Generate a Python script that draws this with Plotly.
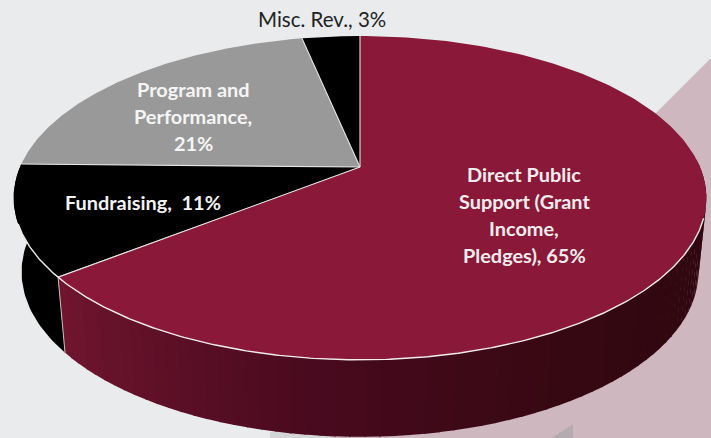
import numpy as np
import plotly.graph_objects as go

categories = ["Direct Public<br>Support (Grant<br>Income,<br>Pledges), 65%", "Fundraising,  11%",
              "Program and<br>Performance,<br>21%", "Misc. Rev., 3%"]
values = [64.3, 11.0, 21.45, 3.25]
colors = ["#8A1838", "#000000", "#999999", "#000000"]
label_xy = [(524, 174), (143, 202), (193, 89), (322, 19)]
label_colors = ["#F3ECEE", "#F3F3F3", "#F5F5F5", "#222222"]
LINE_GAP = 27

W, H = 711, 438
CX, CY, A, B, K = 360, 167, 340, 156, 0.191


def top(theta):
    u, v = np.sin(theta), np.cos(theta)
    d = 1 + K * v
    return CX + A * u / d, CY - B * v / d


def bottom(theta):
    x, y = top(theta)
    return CX + (x - CX) * 0.977, 272 + (y - 198) * 165 / 162


def lerp(c1, c2, t):
    return "rgb(%d,%d,%d)" % tuple(round(a + (b - a) * t) for a, b in zip(c1, c2))


def side_color(theta):
    deg = np.degrees(theta)  # 90 = right edge, 232 = left corner
    stops = [(90, (44, 6, 14)), (150, (54, 8, 18)), (185, (72, 10, 30)), (232, (114, 21, 48))]
    for (d0, c0), (d1, c1) in zip(stops, stops[1:]):
        if deg <= d1:
            return lerp(c0, c1, max(0, (deg - d0) / (d1 - d0)))
    return lerp(stops[-1][1], stops[-1][1], 0)


fig = go.Figure()

edges = np.cumsum([0] + values) / sum(values) * 2 * np.pi

# side walls (front half only): maroon strips and the black fundraising wall
t1 = edges[1]
strips = np.linspace(np.pi / 2 - 0.05, t1, 70)
for a, b in zip(strips[:-1], strips[1:]):
    ts = np.linspace(a, b + 0.004, 4)
    xt, yt = top(ts)
    xb, yb = bottom(ts)
    fig.add_trace(go.Scatter(x=np.r_[xt, xb[::-1]], y=np.r_[yt, yb[::-1]], mode="lines", fill="toself",
                             fillcolor=side_color((a + b) / 2), line=dict(width=0), hoverinfo="skip"))
ts = np.linspace(edges[1], edges[2], 40)
xt, yt = top(ts)
xb, yb = bottom(ts)
fig.add_trace(go.Scatter(x=np.r_[xt, xb[::-1]], y=np.r_[yt, yb[::-1]], mode="lines", fill="toself",
                         fillcolor="#000000", line=dict(width=0), hoverinfo="skip"))
# wall seam at the maroon / black corner
xa, ya = top(edges[1])
xb2, yb2 = bottom(edges[1])
fig.add_trace(go.Scatter(x=[xa, xb2], y=[ya, yb2], mode="lines", line=dict(color="#C9C3C5", width=1), hoverinfo="skip"))

# top face wedges
for i, c in enumerate(colors):
    ts = np.linspace(edges[i], edges[i + 1], 200)
    x, y = top(ts)
    fig.add_trace(go.Scatter(x=np.r_[CX, x, CX], y=np.r_[CY, y, CY], mode="lines", fill="toself",
                             fillcolor=c, line=dict(width=0), hoverinfo="skip"))

# white separators
for e in edges[:-1]:
    x, y = top(e)
    fig.add_trace(go.Scatter(x=[CX, x], y=[CY, y], mode="lines", line=dict(color="#E4E4E4", width=1.1), hoverinfo="skip"))
# white rim on the front
ts = np.linspace(np.radians(108), np.radians(250), 300)
x, y = top(ts)
fig.add_trace(go.Scatter(x=x, y=y, mode="lines", line=dict(color="#F0ECEC", width=1.4), hoverinfo="skip"))

for txt, (lx, ly), lc, i in zip(categories, label_xy, label_colors, range(4)):
    for j, line in enumerate(txt.split("<br>")):
        fig.add_annotation(x=lx, y=ly + j * LINE_GAP, text=line, showarrow=False, xanchor="center", yanchor="middle",
                           font=dict(family="Lato", size=20.5 if i == 3 else 19.9, color=lc, weight=400 if i == 3 else 700),
                           align="center")

fig.update_layout(
    width=W, height=H, margin=dict(l=0, r=0, t=0, b=0), showlegend=False,
    paper_bgcolor="#E9EBED", plot_bgcolor="rgba(0,0,0,0)",
    xaxis=dict(range=[0, W], visible=False, fixedrange=True),
    yaxis=dict(range=[H, 0], visible=False, fixedrange=True),
    shapes=[
        dict(type="rect", x0=270, x1=340, y0=432, y1=438, fillcolor="#D5D5D7", line_width=0, layer="below"),
        dict(type="path", path=f"M {W} 58 L 331 438 L {W} 438 Z", fillcolor="#CFB7BF", line_width=0, layer="below"),
        dict(type="path", path="M 573 424 L 552 438 L 573 438 Z", fillcolor="#B3ABAF", line_width=0, layer="below"),
    ],
)
fig.write_html("out.html", config=dict(displayModeBar=False),
               post_script="document.body.style.margin='0';document.documentElement.style.overflow='hidden';")
